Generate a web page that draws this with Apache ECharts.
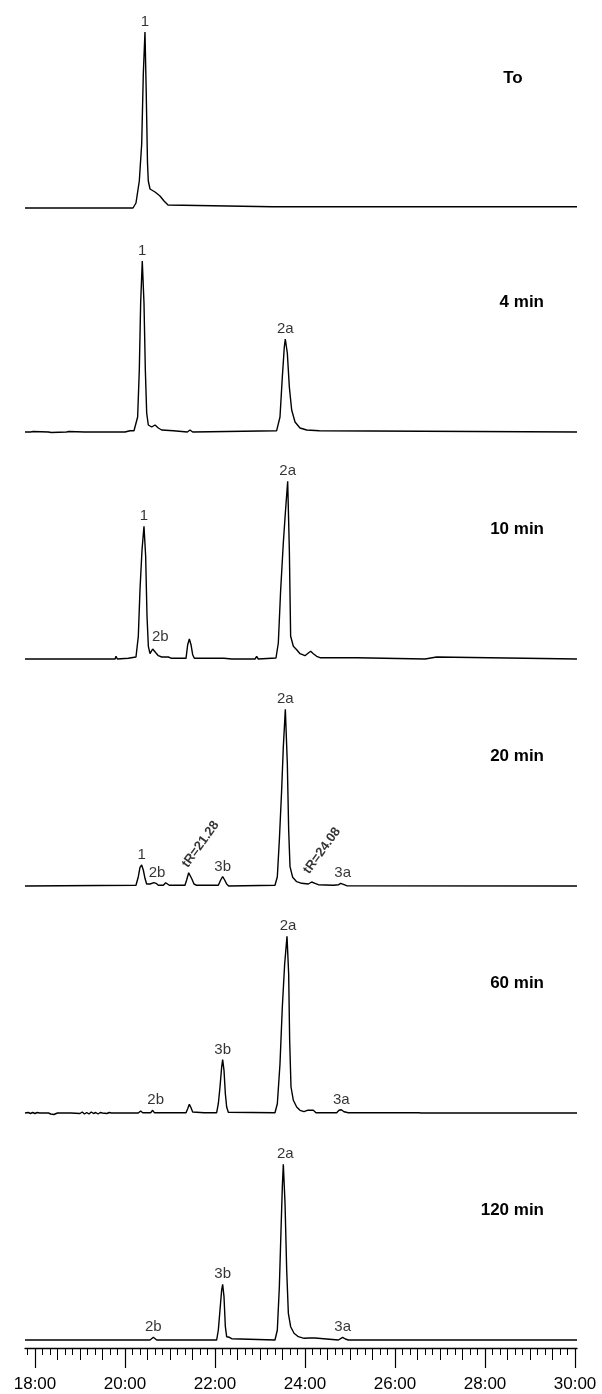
<!DOCTYPE html>
<html><head><meta charset="utf-8">
<script src="https://cdn.jsdelivr.net/npm/echarts@6/dist/echarts.min.js"></script>
<style>html,body{margin:0;padding:0;background:#fff}#c{width:602px;height:1394px}</style>
</head><body><div id="c"></div>
<script>
// ---------- DATA (retention time in minutes, detector response in arbitrary units) ----------
const panelTitles = ['To', '4 min', '10 min', '20 min', '60 min', '120 min'];

const traceT0 = [[17.778,0],[20.178,0],[20.244,5],[20.318,27],[20.371,64],[20.407,134],[20.444,176],[20.47,120],[20.5,45],[20.518,27],[20.556,19],[20.667,16],[20.778,12],[20.867,7],[20.956,3],[21.0,1.3],[23.27,1.3],[23.296,-0.5],[23.32,1.3],[24.5,1.3],[24.518,-0.5],[24.54,1.3],[24.76,1.3],[24.778,2.5],[24.8,1.3],[30.044,1.3]];

const trace4 = [[17.778,0],[17.9,0],[17.93,-1],[17.96,0.5],[18.0,0],[18.3,0],[18.33,1],[18.36,-0.5],[18.4,0],[18.7,0],[18.72,-1],[18.75,0.5],[18.78,0],[19.1,0],[19.13,0.5],[19.16,0],[19.74,0],[19.77,1.5],[19.8,0],[20.0,0],[20.11,1.3],[20.2,1.3],[20.244,1.5],[20.281,15],[20.318,62],[20.348,129],[20.384,171],[20.422,129],[20.452,62],[20.482,19],[20.518,7],[20.593,5],[20.667,7],[20.741,4],[20.815,2],[21.074,1.3],[21.111,0],[21.385,0],[21.444,2],[21.504,0],[23.370,1.3],[23.444,15],[23.496,55],[23.540,85],[23.562,93],[23.607,79],[23.652,45],[23.704,22],[23.778,10],[23.889,4],[24.037,2],[24.318,1.3],[24.33,0],[30.044,0]];

const trace10 = [[17.778,0],[19.78,0],[19.800,2.7],[19.830,0],[20.074,0.7],[20.244,2],[20.296,22.7],[20.333,69],[20.378,109],[20.422,132.7],[20.459,103],[20.489,43],[20.519,12.7],[20.556,5.3],[20.615,10],[20.652,12],[20.689,6],[20.741,3.3],[20.815,2],[20.9,2],[20.926,3.3],[20.963,2],[21.037,0.7],[21.356,0.7],[21.393,14.3],[21.430,20],[21.467,14.3],[21.504,4.3],[21.541,0.7],[22.148,0.7],[22.170,2.7],[22.200,0.7],[22.370,0],[22.889,0],[22.926,2.5],[22.963,0],[23.355,1],[23.407,16],[23.459,69],[23.518,116],[23.563,146],[23.615,177.7],[23.652,109],[23.681,22.7],[23.741,12.7],[23.815,9.3],[23.889,5.3],[24.000,3.3],[24.074,6],[24.126,7.7],[24.185,5.3],[24.259,2.7],[24.333,1.3],[25.148,1.3],[25.163,0],[26.667,0],[26.689,2],[26.926,2],[26.948,0],[30.044,0]];

const trace20 = [[17.778,0],[20.244,0.7],[20.296,9.3],[20.333,18.7],[20.370,21],[20.407,16],[20.444,7.7],[20.481,2],[20.519,0.7],[20.556,2],[20.593,4],[20.644,3.3],[20.689,2.7],[20.741,0.7],[20.852,0.7],[20.904,3.3],[20.948,3.3],[20.985,0.7],[21.333,0.7],[21.370,6],[21.415,13.3],[21.444,12.7],[21.489,6.7],[21.533,2],[21.593,0.7],[22.074,0.7],[22.126,6],[22.170,9.3],[22.215,6],[22.259,2],[22.304,0],[23.333,0.7],[23.385,9.3],[23.430,46],[23.481,96],[23.518,139],[23.563,176.7],[23.607,122.7],[23.637,56],[23.667,19.3],[23.726,8.7],[23.815,4.3],[23.926,2.7],[24.074,2],[24.148,4],[24.222,2.7],[24.296,1.3],[24.630,0.7],[24.748,1.3],[24.793,2.7],[24.837,1.3],[24.926,0.3],[30.044,0]];

const trace60 = [[17.778,0],[17.85,0.5],[17.9,-0.5],[17.95,0.5],[18.0,-0.5],[18.05,0.5],[18.1,0],[18.3,0],[18.35,-1],[18.38,1],[18.42,-1.5],[18.46,0.5],[18.5,0],[18.8,0],[19.0,-0.5],[19.05,1],[19.1,-1],[19.15,0.5],[19.2,-1],[19.25,1],[19.3,-0.5],[19.35,0.5],[19.4,-1],[19.45,0.5],[19.5,0],[19.6,-0.5],[19.65,0.5],[19.7,0],[20.296,0],[20.348,2],[20.393,0.3],[20.570,0.3],[20.615,2.7],[20.652,0.3],[20.889,0.3],[20.926,2],[20.963,0.3],[21.356,0.3],[21.393,4.3],[21.430,8.7],[21.467,5.3],[21.504,1],[21.756,0.3],[21.800,2.3],[21.844,0.3],[22.037,0.3],[22.074,9.3],[22.111,26],[22.148,46],[22.170,53.3],[22.200,42.7],[22.230,19.3],[22.259,6],[22.296,0.7],[23.333,0.3],[23.385,9.3],[23.444,49],[23.496,106],[23.548,149],[23.600,176.7],[23.637,139],[23.659,72.7],[23.689,26],[23.741,12.7],[23.815,6],[23.889,2.7],[23.978,1.3],[24.052,2.7],[24.185,2.7],[24.244,0.3],[24.704,0.3],[24.756,2.7],[24.807,3.3],[24.867,1.3],[24.963,0.3],[26.370,0.3],[26.407,-1.3],[26.444,0.3],[26.519,0.3],[26.556,1.3],[26.593,0],[30.044,0]];

const trace120 = [[17.778,0],[20.556,0],[20.593,1.3],[20.630,2.7],[20.674,0.7],[20.704,0],[22.037,0],[22.074,10],[22.111,30],[22.148,50],[22.170,55.7],[22.200,43.3],[22.230,13.3],[22.259,3.3],[22.319,2.7],[22.370,1.3],[22.407,0],[23.333,0],[23.385,10],[23.430,53.3],[23.467,110],[23.496,153],[23.518,175.7],[23.556,136.7],[23.593,70],[23.630,26.7],[23.681,13.3],[23.756,6.7],[23.852,3.3],[23.978,1.7],[24.022,2.7],[24.096,2],[24.222,2],[24.259,0.7],[24.741,0],[24.778,2],[24.837,2.7],[24.896,1],[24.963,0],[30.044,0]];

// peak labels: [retention time of the apex, text]
const peaksT0  = [[20.444,'1']];
const peaks4   = [[20.384,'1'],[23.562,'2a']];
const peaks10  = [[20.422,'1'],[20.652,'2b'],[23.615,'2a']];
const peaks20  = [[20.370,'1'],[20.644,'2b'],[21.415,'tR=21.28'],[22.170,'3b'],[23.563,'2a'],[24.148,'tR=24.08'],[24.793,'3a']];
const peaks60  = [[20.615,'2b'],[22.170,'3b'],[23.600,'2a'],[24.807,'3a']];
const peaks120 = [[20.630,'2b'],[22.170,'3b'],[23.518,'2a'],[24.837,'3a']];

// x-axis tick labels (mm:ss)
const tickLabelValues = [18, 20, 22, 24, 26, 28, 30];
const tickLabelTexts  = ['18:00','20:00','22:00','24:00','26:00','28:00','30:00'];

// ---------- LAYOUT / STYLE ----------
const traces = [traceT0, trace4, trace10, trace20, trace60, trace120];
const peaks = [peaksT0, peaks4, peaks10, peaks20, peaks60, peaks120];
const baselines = [208, 432, 659, 886, 1113, 1340];
const X_MIN = 17.778, X_MAX = 30.044;
const Y_MIN = -4, Y_MAX = 186;
const FONT = '"Liberation Sans", Arial, Helvetica, sans-serif';

const labelTweaks = {
  '2:2b': {offset: [6, 0]},
  '3:2b': {offset: [3, 0]},
  '4:2b': {offset: [3, 0]},
  '4:2a': {offset: [1, 0]},
  '5:2a': {offset: [2, 0]},
  '3:3a': {offset: [2, 0]},
  '3:tR=21.28': {rotated: true, offset: [3, -7]},
  '3:tR=24.08': {rotated: true, offset: [4.5, -10]}
};

// tick positions every 10 s, 30 s and 2 min
const ticks10s = [], ticks30s = [], ticks2m = [];
for (let s = 17 * 60 + 50; s <= 30 * 60; s += 10) ticks10s.push(s / 60);
for (let s = 18 * 60; s <= 30 * 60; s += 30) ticks30s.push(s / 60);
for (let s = 18 * 60; s <= 30 * 60; s += 120) ticks2m.push(s / 60);

function valueAt(trace, t) {
  let best = trace[0], bd = Infinity;
  for (const p of trace) { const d = Math.abs(p[0] - t); if (d < bd) { bd = d; best = p; } }
  return best[1];
}

const grid = [], xAxis = [], yAxis = [], series = [], graphic = [];
baselines.forEach((b, i) => {
  grid.push({left: 25, right: 25, top: b - Y_MAX, height: Y_MAX - Y_MIN});
  xAxis.push({gridIndex: i, type: 'value', position: 'bottom', min: X_MIN, max: X_MAX, show: i === 5,
    offset: 4,
    axisLine: {show: i === 5, onZero: false, lineStyle: {color: '#000', width: 1.3}},
    axisTick: {show: i === 5, customValues: ticks10s, length: 7, lineStyle: {color: '#000', width: 1}},
    axisLabel: {show: false}, splitLine: {show: false}});
  yAxis.push({gridIndex: i, type: 'value', min: Y_MIN, max: Y_MAX, show: false, splitLine: {show: false}});
  series.push({type: 'line', xAxisIndex: i, yAxisIndex: i, data: traces[i], symbol: 'none', showSymbol: false,
    lineStyle: {color: '#000', width: 1.4}, silent: true, clip: false, animation: false});
  series.push({type: 'scatter', xAxisIndex: i, yAxisIndex: i, symbolSize: 1, silent: true, animation: false,
    itemStyle: {color: 'rgba(0,0,0,0)'},
    data: peaks[i].map(([t, txt]) => {
      const tw = labelTweaks[i + ':' + txt] || {};
      const base = {show: true, formatter: txt, color: '#000', fontFamily: FONT, fontSize: 15};
      const label = tw.rotated
        ? Object.assign(base, {position: 'inside', rotate: 54, align: 'left', verticalAlign: 'middle', fontWeight: 'bold', fontSize: 13, offset: tw.offset})
        : Object.assign(base, {position: 'top', distance: 2, offset: tw.offset || [0, 0]});
      return {value: [t, valueAt(traces[i], t)], label: label};
    })});
  graphic.push({type: 'text', x: i === 0 ? 513 : 544, y: b - 130, silent: true,
    style: {text: panelTitles[i], font: 'bold 17px ' + FONT, fill: '#000',
      textAlign: i === 0 ? 'center' : 'right', align: i === 0 ? 'center' : 'right',
      textVerticalAlign: 'middle', verticalAlign: 'middle'}});
});

// extra axes for medium and long ticks + labels on the bottom panel
xAxis.push({gridIndex: 5, type: 'value', position: 'bottom', min: X_MIN, max: X_MAX, offset: 4,
  axisLine: {show: false, onZero: false}, axisLabel: {show: false}, splitLine: {show: false},
  axisTick: {show: true, customValues: ticks30s, length: 12, lineStyle: {color: '#000', width: 1}}});
xAxis.push({gridIndex: 5, type: 'value', position: 'bottom', min: X_MIN, max: X_MAX, offset: 4,
  axisLine: {show: false, onZero: false}, splitLine: {show: false},
  axisTick: {show: true, customValues: ticks2m, length: 20, lineStyle: {color: '#000', width: 1.2}},
  axisLabel: {show: true, customValues: tickLabelValues, margin: 28, color: '#000', fontSize: 17, fontFamily: FONT,
    formatter: v => { const k = tickLabelValues.findIndex(x => Math.abs(x - v) < 1e-6); return k >= 0 ? tickLabelTexts[k] : ''; }}});

const chart = echarts.init(document.getElementById('c'), null, {renderer: 'canvas'});
chart.setOption({animation: false, backgroundColor: '#fff', grid, xAxis, yAxis, series, graphic});
</script></body></html>
